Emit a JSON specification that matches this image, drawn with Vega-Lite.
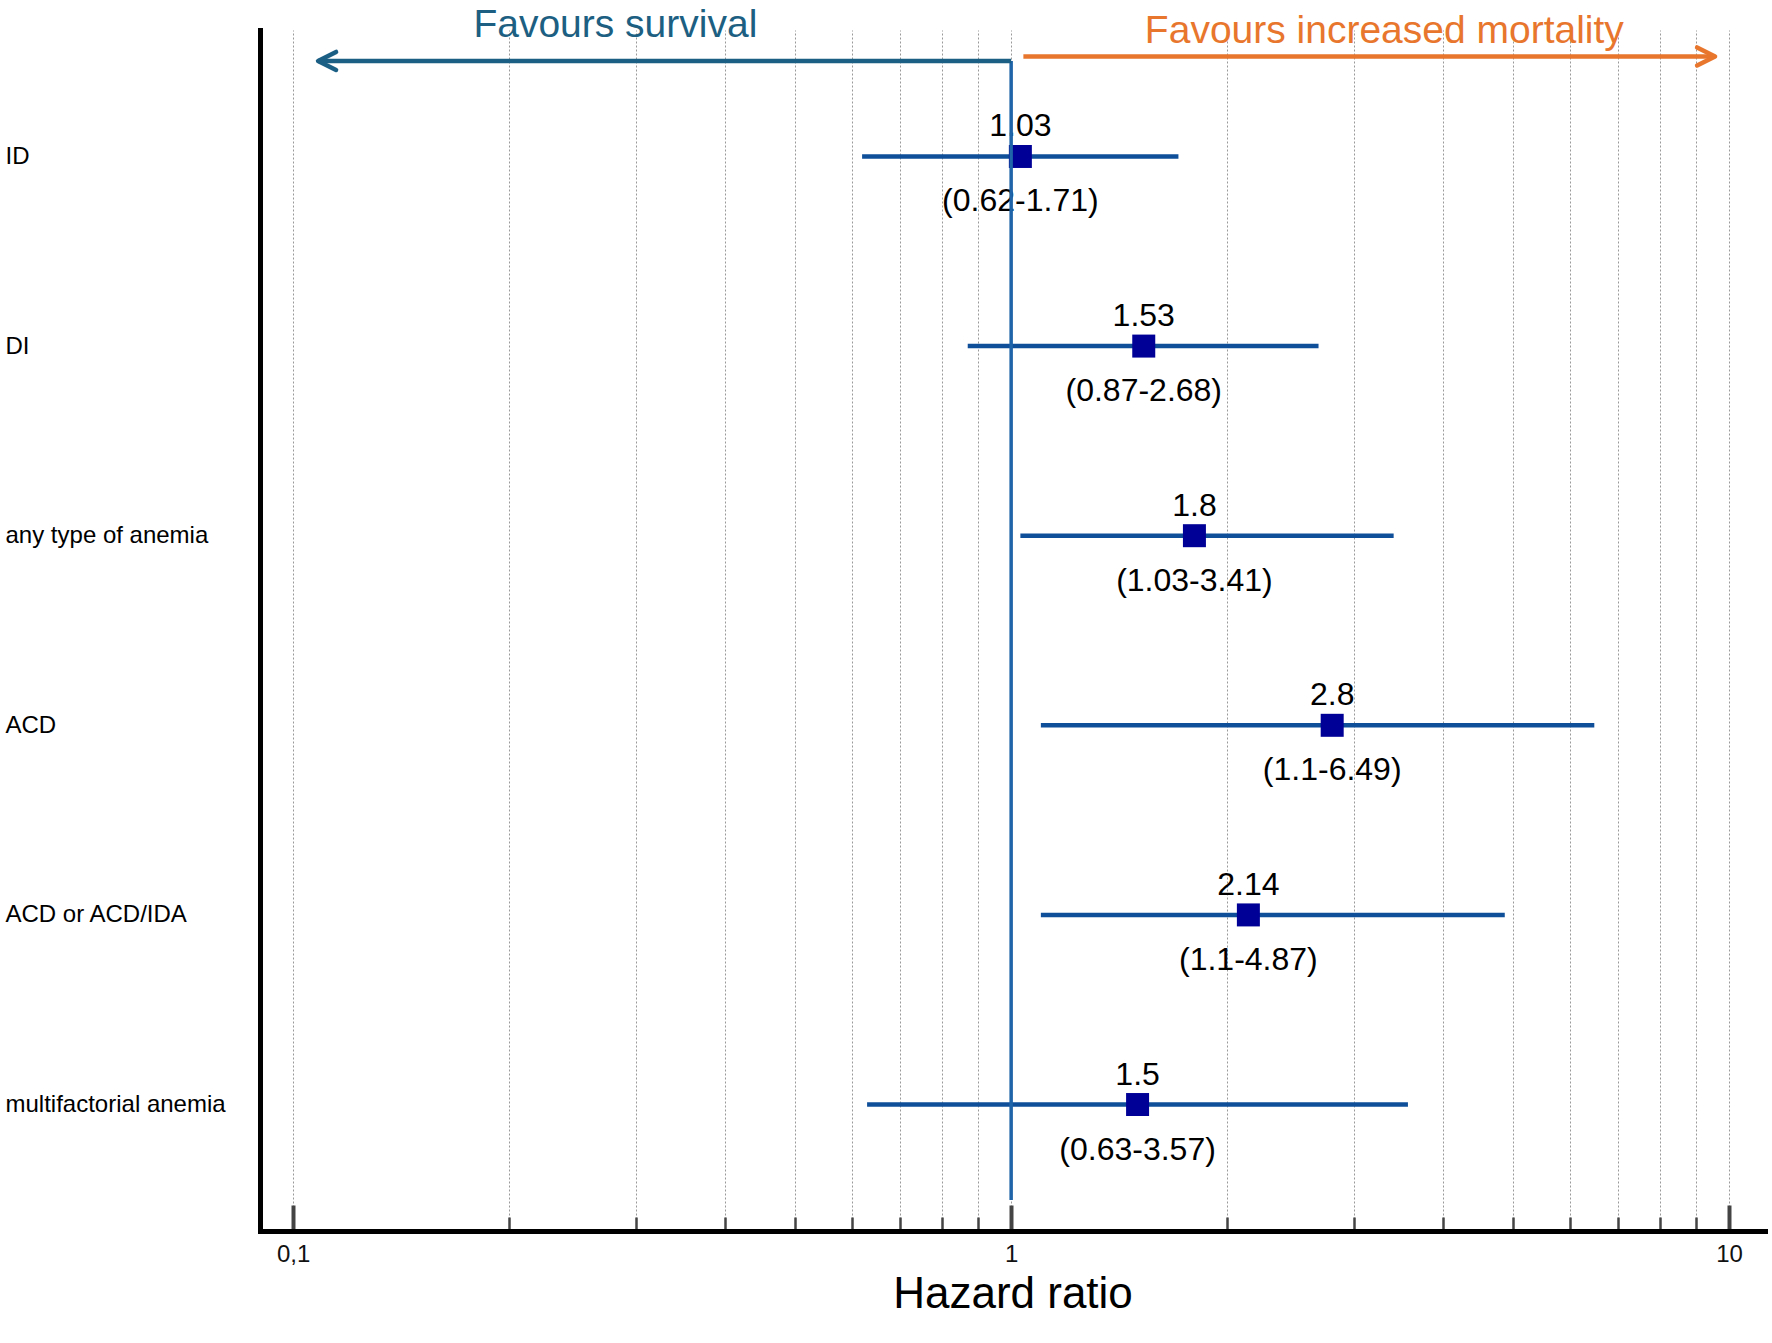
{
  "$schema": "https://vega.github.io/schema/vega-lite/v6.json",
  "width": 1505,
  "height": 1201,
  "autosize": "none",
  "padding": {"left": 260, "top": 30, "right": 7, "bottom": 112},
  "background": "white",
  "config": {"view": {"stroke": null}, "font": "Liberation Sans"},
  "datasets": {
    "rows": [
      {"group": "ID", "hr": 1.03, "lo": 0.62, "hi": 1.71, "ci": "(0.62-1.71)"},
      {"group": "DI", "hr": 1.53, "lo": 0.87, "hi": 2.68, "ci": "(0.87-2.68)"},
      {"group": "any type of anemia", "hr": 1.8, "lo": 1.03, "hi": 3.41, "ci": "(1.03-3.41)"},
      {"group": "ACD", "hr": 2.8, "lo": 1.1, "hi": 6.49, "ci": "(1.1-6.49)"},
      {"group": "ACD or ACD/IDA", "hr": 2.14, "lo": 1.1, "hi": 4.87, "ci": "(1.1-4.87)"},
      {"group": "multifactorial anemia", "hr": 1.5, "lo": 0.63, "hi": 3.57, "ci": "(0.63-3.57)"}
    ]
  },
  "resolve": {"axis": {"x": "independent"}},
  "layer": [
    {
      "data": {"name": "rows"},
      "mark": {"type": "point", "opacity": 0},
      "encoding": {
        "x": {
          "field": "hr", "type": "quantitative",
          "scale": {"type": "log", "domain": [0.0899, 11.22], "nice": false},
          "axis": {
            "orient": "bottom",
            "values": [0.1, 0.2, 0.3, 0.4, 0.5, 0.6, 0.7, 0.8, 0.9, 1, 2, 3, 4, 5, 6, 7, 8, 9, 10],
            "tickSize": -14, "tickWidth": 2.5, "tickColor": "#444444",
            "labels": false, "domain": false, "title": null,
            "grid": true, "gridDash": [2, 2], "gridColor": "#999999", "gridWidth": 1
          }
        },
        "y": {
          "field": "group", "type": "nominal", "sort": null,
          "scale": {"type": "point", "padding": 0.667},
          "axis": {
            "orient": "left",
            "title": null, "ticks": false, "grid": false,
            "domain": true, "domainColor": "black", "domainWidth": 5, "domainCap": "square",
            "labelAlign": "left", "labelBaseline": "middle", "labelPadding": 255,
            "labelFontSize": 24, "labelColor": "black", "labelLimit": 400
          }
        }
      }
    },
    {
      "data": {"name": "rows"},
      "mark": {"type": "rule", "strokeWidth": 4.5, "color": "#0f4f9a"},
      "encoding": {
        "x": {
          "field": "lo", "type": "quantitative",
          "scale": {"type": "log", "domain": [0.0899, 11.22], "nice": false},
          "axis": {
            "orient": "bottom",
            "values": [0.1, 1, 10],
            "tickSize": -26, "tickWidth": 4, "tickColor": "#444444",
            "grid": false,
            "domain": true, "domainColor": "black", "domainWidth": 5, "domainCap": "square",
            "labelExpr": "replace(format(datum.value, '~g'), '.', ',')",
            "labelFontSize": 24, "labelColor": "#111111", "labelFlush": false,
            "labelBaseline": "middle", "labelPadding": 49,
            "title": "Hazard ratio",
            "titleFont": "Liberation Sans Narrow, Liberation Sans, Arial",
            "titleFontSize": 44, "titleFontWeight": "normal", "titleColor": "black",
            "titleBaseline": "middle", "titleY": 63
          }
        },
        "x2": {"field": "hi"},
        "y": {"field": "group", "type": "nominal", "sort": null}
      }
    },
    {
      "data": {"name": "rows"},
      "mark": {"type": "square", "size": 529, "color": "#000096", "opacity": 1, "filled": true},
      "encoding": {
        "x": {"field": "hr", "type": "quantitative", "axis": null},
        "y": {"field": "group", "type": "nominal", "sort": null}
      }
    },
    {
      "data": {"name": "rows"},
      "mark": {"type": "text", "fontSize": 32, "dy": -30, "baseline": "middle", "align": "center", "color": "black"},
      "encoding": {
        "x": {"field": "hr", "type": "quantitative", "axis": null},
        "y": {"field": "group", "type": "nominal", "sort": null},
        "text": {"field": "hr", "type": "nominal"}
      }
    },
    {
      "data": {"name": "rows"},
      "mark": {"type": "text", "fontSize": 32, "dy": 45, "baseline": "middle", "align": "center", "color": "black"},
      "encoding": {
        "x": {"field": "hr", "type": "quantitative", "axis": null},
        "y": {"field": "group", "type": "nominal", "sort": null},
        "text": {"field": "ci", "type": "nominal"}
      }
    },
    {
      "data": {"values": [{"ref": 1}]},
      "mark": {"type": "rule", "color": "#1f63a8", "strokeWidth": 3.5, "yOffset": -95.5, "y2Offset": 95.5},
      "encoding": {
        "x": {"field": "ref", "type": "quantitative", "axis": null},
        "y": {"datum": "ID", "type": "nominal"},
        "y2": {"datum": "multifactorial anemia"}
      }
    },
    {
      "data": {"values": [{"from": 1, "to": 0.1083}]},
      "mark": {"type": "rule", "color": "#1c5f85", "strokeWidth": 4.5, "yOffset": -95.5},
      "encoding": {
        "x": {"field": "from", "type": "quantitative", "axis": null},
        "x2": {"field": "to"},
        "y": {"datum": "ID", "type": "nominal"}
      }
    },
    {
      "data": {"values": [{"to": 0.1083}]},
      "mark": {"type": "point", "shape": "M2,-1L0,0L2,1", "size": 324, "filled": false, "stroke": "#1c5f85", "strokeWidth": 4.5, "strokeCap": "round", "strokeJoin": "round", "opacity": 1, "yOffset": -95.5},
      "encoding": {
        "x": {"field": "to", "type": "quantitative", "axis": null},
        "y": {"datum": "ID", "type": "nominal"}
      }
    },
    {
      "data": {"values": [{"from": 1.04, "to": 9.56}]},
      "mark": {"type": "rule", "color": "#e8762d", "strokeWidth": 4.5, "yOffset": -100},
      "encoding": {
        "x": {"field": "from", "type": "quantitative", "axis": null},
        "x2": {"field": "to"},
        "y": {"datum": "ID", "type": "nominal"}
      }
    },
    {
      "data": {"values": [{"to": 9.56}]},
      "mark": {"type": "point", "shape": "M-2,-1L0,0L-2,1", "size": 324, "filled": false, "stroke": "#e8762d", "strokeWidth": 4.5, "strokeCap": "round", "strokeJoin": "round", "opacity": 1, "yOffset": -100},
      "encoding": {
        "x": {"field": "to", "type": "quantitative", "axis": null},
        "y": {"datum": "ID", "type": "nominal"}
      }
    },
    {
      "data": {"values": [{"pos": 0.281, "label": "Favours survival"}]},
      "mark": {"type": "text", "fontSize": 39, "dy": -131.5, "baseline": "middle", "align": "center", "color": "#1c5f82", "font": "Liberation Sans Narrow, Liberation Sans, Arial"},
      "encoding": {
        "x": {"field": "pos", "type": "quantitative", "axis": null},
        "y": {"datum": "ID", "type": "nominal"},
        "text": {"field": "label"}
      }
    },
    {
      "data": {"values": [{"pos": 3.31, "label": "Favours increased mortality"}]},
      "mark": {"type": "text", "fontSize": 39, "dy": -125, "baseline": "middle", "align": "center", "color": "#e8762d", "font": "Liberation Sans Narrow, Liberation Sans, Arial"},
      "encoding": {
        "x": {"field": "pos", "type": "quantitative", "axis": null},
        "y": {"datum": "ID", "type": "nominal"},
        "text": {"field": "label"}
      }
    }
  ]
}
